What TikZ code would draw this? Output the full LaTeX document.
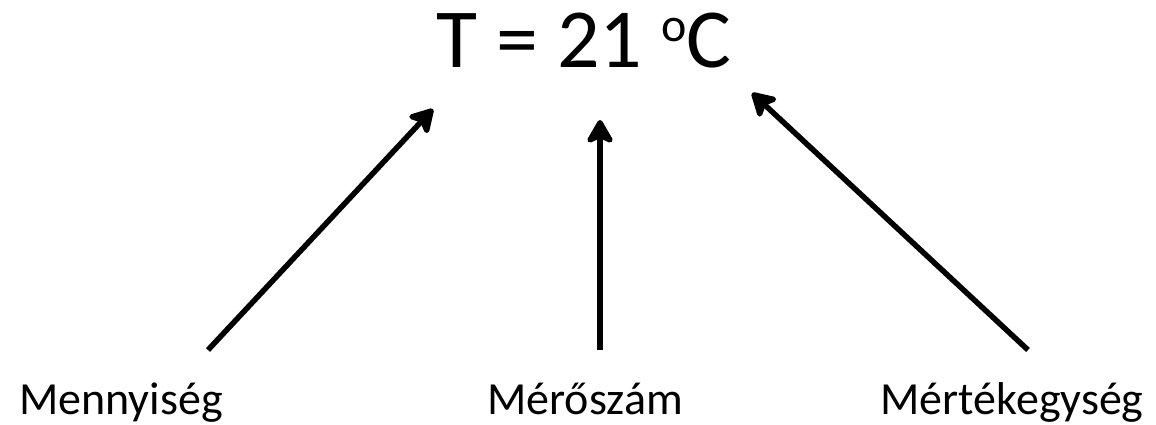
\documentclass[tikz,border=0pt]{standalone}
\usepackage{tikz}
\usetikzlibrary{positioning,arrows.meta}
\usepackage{fontspec}
\setmainfont{Carlito}

\begin{document}
\begin{tikzpicture}[x=1pt,y=-1pt,
		every node/.style={inner sep=0pt, outer sep=0pt},
		cim/.style={font=\fontsize{84}{90}\selectfont, anchor=base},
		felirat/.style={font=\fontsize{46}{50}\selectfont, anchor=base},
		nyil/.style={line width=5.5pt, -{Stealth[length=28pt,width=32pt,inset=7pt,round]}}
		]
		\useasboundingbox (0,0) rectangle (1156,425);
		\node[cim] (T) at (584,68) {T = 21 \raisebox{26pt}{\fontsize{48}{48}\selectfont o}C};
		\node[felirat] (mennyiseg) at (121,414) {Mennyiség};
		\node[felirat] (meroszam) at (585,414) {Mérőszám};
		\node[felirat] (mertekegyseg) at (1012,414) {Mértékegység};
		\coordinate (m1) at (208,350);
		\coordinate (m2) at (600,350);
		\coordinate (m3) at (1028,350);
		\coordinate (c1) at (433,109);
		\coordinate (c2) at (600,120);
		\coordinate (c3) at (752,93);
		\draw[nyil] (m1) to (c1);
		\draw[nyil] (m2) to (c2);
		\draw[nyil] (m3) to (c3);
	\end{tikzpicture}
\end{document}
